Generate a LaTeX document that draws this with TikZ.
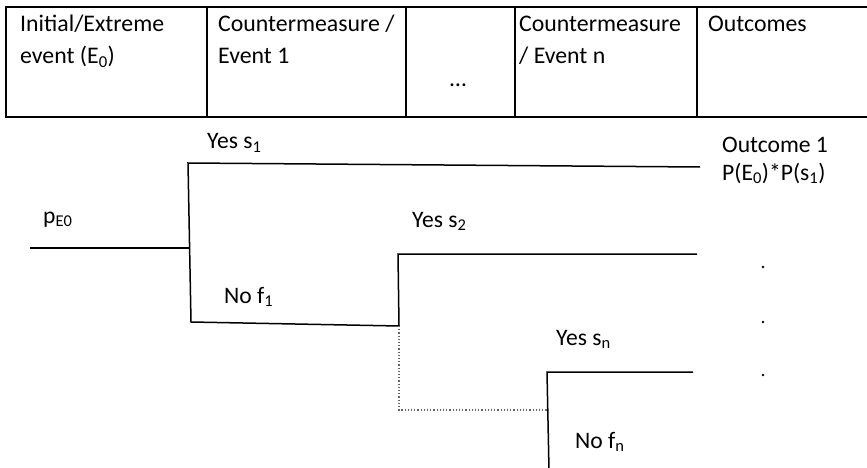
\documentclass[tikz,border=0pt]{standalone}
\usepackage{fontspec}
\setmainfont{Carlito}
\usepackage{tikz}
\usetikzlibrary{calc,positioning}
\tikzset{
  cell/.style={inner sep=0pt, anchor=base west, align=left, font=\fontsize{23.8}{32}\selectfont},
  lbl/.style={inner sep=0pt, anchor=base west, align=left, font=\fontsize{23.6}{28}\selectfont},
  frame/.style={line width=2.6pt, black},
  branch/.style={line width=1.5pt, black},
  nobranch/.style={line width=1.2pt, black!60, dotted}
}
\begin{document}
\begin{tikzpicture}[x=1pt, y=-1pt]
  \useasboundingbox (0,0) rectangle (867,468);
  \clip (0,0) rectangle (867,468);
  % Header table (base anchor sits on the last line)
  \draw[frame] (900,7) -- (6,7) -- (6,117) -- (900,117);
  \foreach \x in {207, 406, 515, 697}
    \draw[frame] (\x,7) -- (\x,117);
  \node[cell] (hdInit) at (20,64) {Initial/Extreme\\event (E\textsubscript{0})};
  \node[cell] (hdCm1) at (218,64) {Countermeasure /\\Event 1};
  \node[cell, anchor=base] (hdDots) at (458,87) {\ldots};
  \node[cell] (hdCmN) at (519,64) {Countermeasure\\/ Event n};
  \node[cell] (hdOut) at (708,32) {Outcomes};

  % Tree points
  \coordinate (start) at (30,248);
  \coordinate (fkA) at (189.5,248);
  \coordinate (fkAtop) at (188,163);
  \coordinate (fkAbot) at (191,322);
  \coordinate (endA) at (700,167);
  \coordinate (fkBtop) at (398,254);
  \coordinate (fkBbot) at (399,326);
  \coordinate (endB) at (697,254);
  \coordinate (dotC) at (399,410);
  \coordinate (fkCmid) at (547,410);
  \coordinate (fkCtop) at (547,372);
  \coordinate (fkCbot) at (549,470);
  \coordinate (endC) at (693,372);

  % Branches
  \draw[branch] (start) -- (fkA);
  \draw[branch] (endA) -- (fkAtop) -- (fkAbot) -- (fkBbot);
  \draw[branch] (endB) -- (fkBtop) -- (fkBbot);
  \draw[nobranch] (fkBbot) -- (dotC) -- (fkCmid);
  \draw[branch] (endC) -- (fkCtop) -- (fkCbot);

  % Labels
  \node[lbl] (lbPE) at (43,223) {p\textsubscript{E0}};
  \node[lbl] (lbYesA) at (207,149) {Yes s\textsubscript{1}};
  \node[lbl] (lbNoA) at (224,303) {No f\textsubscript{1}};
  \node[lbl] (lbYesB) at (412,227) {Yes s\textsubscript{2}};
  \node[lbl] (lbYesC) at (556,345) {Yes s\textsubscript{n}};
  \node[lbl] (lbNoC) at (575,448) {No f\textsubscript{n}};
  \node[lbl] (lbOutA) at (722,180) {Outcome 1\\P(E\textsubscript{0})*P(s\textsubscript{1})};

  % Dots for remaining outcomes
  \foreach \y/\n in {267/a, 322/b, 375/c}
    \fill (763,\y) circle (1.4) coordinate (dot\n);
\end{tikzpicture}
\end{document}
